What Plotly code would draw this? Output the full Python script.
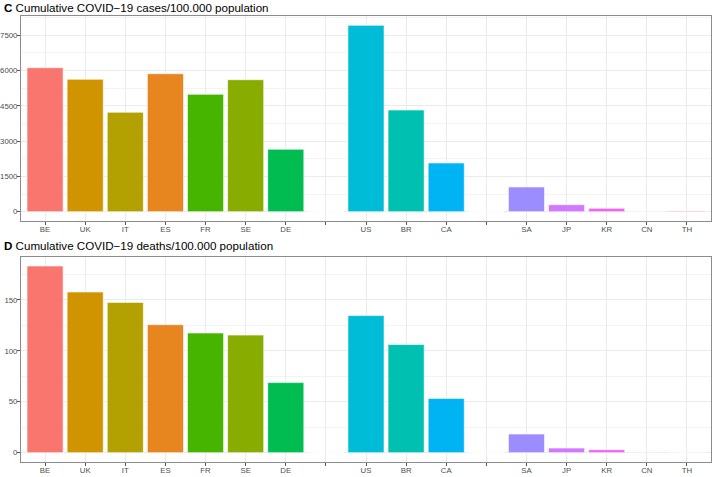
import math
import plotly.graph_objects as go

# ---------------- data ----------------
categories = ["BE", "UK", "IT", "ES", "FR", "SE", "DE", "gap1",
              "US", "BR", "CA", "gap2",
              "SA", "JP", "KR", "CN", "TH"]
tick_labels = ["BE", "UK", "IT", "ES", "FR", "SE", "DE", "",
               "US", "BR", "CA", "",
               "SA", "JP", "KR", "CN", "TH"]
cases_per_100k = [6119, 5626, 4224, 5864, 4989, 5609, 2651, 0,
                  7921, 4321, 2069, 0,
                  1050, 297, 144, 6, 30]
deaths_per_100k = [183.3, 157.8, 147.6, 125.7, 117.5, 115.5, 68.8, 0,
                   134.6, 106.2, 53.3, 0,
                   18.3, 4.5, 2.9, 0.3, 0.2]
# position of each category in the 17-level ggplot hue palette
palette_index = [0, 2, 3, 1, 5, 4, 6, 7, 9, 8, 10, 11, 12, 13, 14, 15, 16]


# ---------------- ggplot hue palette ----------------
def hcl_hex(h, c=100.0, l=65.0):
    hr = math.radians(h)
    u = c * math.cos(hr)
    v = c * math.sin(hr)
    Xn, Yn, Zn = 95.047, 100.0, 108.883
    Y = Yn * ((l + 16) / 116) ** 3
    den = Xn + 15 * Yn + 3 * Zn
    un, vn = 4 * Xn / den, 9 * Yn / den
    up = u / (13 * l) + un
    vp = v / (13 * l) + vn
    X = 9 * Y * up / (4 * vp)
    Z = Y * (12 - 3 * up - 20 * vp) / (4 * vp)
    X, Y, Z = X / 100, Y / 100, Z / 100
    r = 3.2404542 * X - 1.5371385 * Y - 0.4985314 * Z
    g = -0.9692660 * X + 1.8760108 * Y + 0.0415560 * Z
    b = 0.0556434 * X - 0.2040259 * Y + 1.0572252 * Z

    def gam(t):
        t = 12.92 * t if t <= 0.0031308 else 1.055 * t ** (1 / 2.4) - 0.055
        return max(0, min(255, round(t * 255)))
    return "#%02X%02X%02X" % (gam(r), gam(g), gam(b))


n_levels = 17
hues = [15 + i * 360 / n_levels for i in range(n_levels)]
pal = [hcl_hex(h) for h in hues]
bar_colors = [pal[i] for i in palette_index]

# ---------------- layout geometry ----------------
W, H = 712, 477
ml, mr, mt, mb = 21, 1, 16, 15
ph = H - mt - mb


def py(y):  # pixel y -> paper fraction
    return (H - mb - y) / ph


def px(x):
    return (x - ml) / (W - ml - mr)


font_fam = "Liberation Sans, Arial, Helvetica, sans-serif"
grid = "#EBEBEB"
border = "#8C8C8C"

fig = go.Figure()
fig.add_trace(go.Bar(x=categories, y=cases_per_100k, marker=dict(color=bar_colors, line=dict(color="white", width=0.6)),
                     width=0.9, xaxis="x", yaxis="y", hoverinfo="x+y", showlegend=False))
fig.add_trace(go.Bar(x=categories, y=deaths_per_100k, marker=dict(color=bar_colors, line=dict(color="white", width=0.6)),
                     width=0.9, xaxis="x2", yaxis="y2", hoverinfo="x+y", showlegend=False))

common_x = dict(type="category", categoryorder="array", categoryarray=categories,
                tickmode="array", tickvals=categories, ticktext=tick_labels,
                range=[-0.6, len(categories) - 0.4],
                showgrid=True, gridcolor=grid, gridwidth=1,
                showline=True, linecolor=border, linewidth=1, mirror=True,
                ticks="outside", ticklen=3, tickcolor="#555555", tickwidth=1,
                tickfont=dict(family=font_fam, size=7.8, color="#4D4D4D"),
                ticklabelstandoff=-2,
                zeroline=False, fixedrange=True, automargin=False)
common_y = dict(showgrid=True, gridcolor=grid, gridwidth=1,
                showline=True, linecolor=border, linewidth=1, mirror=True,
                ticks="outside", ticklen=3, tickcolor="#555555", tickwidth=1,
                tickfont=dict(family=font_fam, size=7.8, color="#4D4D4D"),
                ticklabelstandoff=-2,
                zeroline=False, fixedrange=True, automargin=False)

yC_top = 1.05 * max(cases_per_100k)
yD_top = 1.05 * max(deaths_per_100k)

fig.update_layout(
    template="none",
    width=W, height=H,
    margin=dict(l=ml, r=mr, t=mt, b=mb, pad=0, autoexpand=False),
    paper_bgcolor="white", plot_bgcolor="white",
    bargap=0.1,
    font=dict(family=font_fam, color="#000000"),
    xaxis=dict(common_x, domain=[0, 1], anchor="y"),
    yaxis=dict(common_y, domain=[py(221), 1], anchor="x",
               range=[-0.05 * max(cases_per_100k), yC_top],
               tickmode="array", tickvals=[0, 1500, 3000, 4500, 6000, 7500],
               minor=dict(dtick=750, tick0=0, showgrid=True, gridcolor="#F3F3F3", gridwidth=0.6, ticks="")),
    xaxis2=dict(common_x, domain=[0, 1], anchor="y2"),
    yaxis2=dict(common_y, domain=[0, py(256.7)], anchor="x2",
                range=[-0.05 * max(deaths_per_100k), yD_top],
                tickmode="array", tickvals=[0, 50, 100, 150],
                minor=dict(dtick=25, tick0=0, showgrid=True, gridcolor="#F3F3F3", gridwidth=0.6, ticks="")),
    annotations=[
        dict(text="<b>C</b> Cumulative COVID\u221219 cases/100.000 population",
             xref="paper", yref="paper", x=px(2), y=py(8), xanchor="left", yanchor="middle",
             showarrow=False, font=dict(family=font_fam, size=11.6, color="#000000")),
        dict(text="<b>D</b> Cumulative COVID\u221219 deaths/100.000 population",
             xref="paper", yref="paper", x=px(2), y=py(246), xanchor="left", yanchor="middle",
             showarrow=False, font=dict(family=font_fam, size=11.6, color="#000000")),
    ],
)

fig.write_html("out.html", config={"displayModeBar": False},
               post_script="document.body.style.margin='0';document.body.style.overflow='hidden';")
